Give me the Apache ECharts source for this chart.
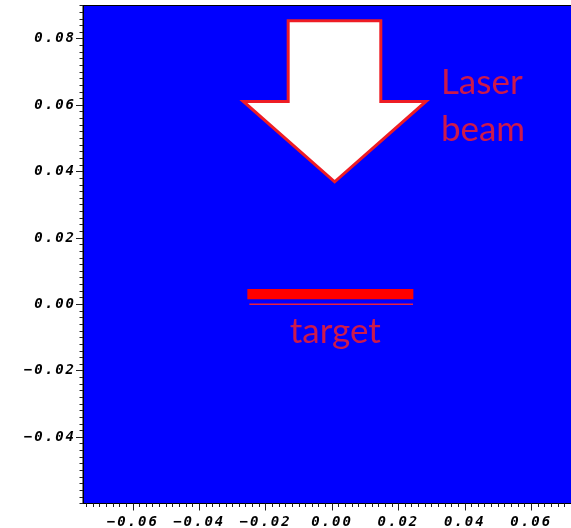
<!DOCTYPE html>
<html>
<head>
<meta charset="utf-8">
<script src="https://cdn.jsdelivr.net/npm/echarts@6/dist/echarts.min.js"></script>
<style>
html,body{margin:0;padding:0;background:#fff;}
#chart{width:571px;height:528px;}
</style>
</head>
<body>
<div id="chart"></div>
<script>
// ---- data ----
var xRange = [-0.075, 0.075];
var yRange = [-0.06, 0.09];
var xMajorTicks = [-0.06, -0.04, -0.02, 0.00, 0.02, 0.04, 0.06];
var yMajorTicks = [-0.04, -0.02, 0.00, 0.02, 0.04, 0.06, 0.08];
var minorStep = 0.002;

// laser beam arrow outline (x, y)
var arrowX = [-0.0132, 0.0147, 0.0147, 0.0283, 0.0008, -0.0267, -0.0132];
var arrowY = [0.0854, 0.0854, 0.0611, 0.0611, 0.0369, 0.0611, 0.0611];

// target slab
var targetX = [-0.0255, 0.0245];
var targetY = [0.0015, 0.0046];
// thin line under target
var baseLineX = [-0.0249, 0.0244];
var baseLineY = [0.0, 0.0];

// annotations
var annotText = ['Laser\nbeam', 'target'];
var annotX = [0.0328, 0.0010];
var annotY = [0.0597, -0.0083];

// wider tracking for the monospace tick labels (canvas letterSpacing)
(function () {
  var proto = CanvasRenderingContext2D.prototype;
  var origFill = proto.fillText;
  proto.fillText = function (t, x, y, m) {
    if ('letterSpacing' in this) {
      this.letterSpacing = (this.font.indexOf('Mono') >= 0) ? '2px' : '0px';
    }
    return m === undefined ? origFill.call(this, t, x, y) : origFill.call(this, t, x, y, m);
  };
})();

// ---- helpers ----
function minorTicks(range, majors) {
  var out = [];
  var start = Math.ceil(range[0] / minorStep - 1e-9);
  var end = Math.floor(range[1] / minorStep + 1e-9);
  for (var i = start; i <= end; i++) {
    var v = +(i * minorStep).toFixed(4);
    var isMajor = majors.some(function (m) { return Math.abs(m - v) < 1e-9; });
    if (!isMajor) out.push(v);
  }
  return out;
}
function fmt(v) {
  var s = Math.abs(v).toFixed(2);
  return (v < -1e-12 ? '\u2212' : '') + s;
}

var labelFont = {
  fontFamily: 'DejaVu Sans Mono',
  fontWeight: 'bold',
  fontStyle: 'italic',
  fontSize: 14,
  color: '#000'
};

var chart = echarts.init(document.getElementById('chart'), null, {renderer: 'canvas'});

var arrowPts = arrowX.map(function (x, i) { return [x, arrowY[i]]; });

var option = {
  animation: false,
  grid: {
    left: 83, top: 5.5, width: 498, height: 498,
    outerBoundsMode: 'none', containLabel: false,
    show: true, backgroundColor: '#0000ff', borderColor: '#000', borderWidth: 1
  },
  xAxis: [
    {
      type: 'value', min: xRange[0], max: xRange[1], position: 'bottom',
      axisLine: {show: true, onZero: false, lineStyle: {color: '#000', width: 1}},
      axisTick: {show: true, customValues: xMajorTicks, length: 7, lineStyle: {color: '#222'}},
      axisLabel: Object.assign({show: true, customValues: xMajorTicks, margin: 11.5, formatter: fmt}, labelFont),
      splitLine: {show: false}
    },
    {
      type: 'value', min: xRange[0], max: xRange[1], position: 'bottom',
      axisLine: {show: false, onZero: false},
      axisTick: {show: true, customValues: minorTicks(xRange, xMajorTicks), length: 3.5, lineStyle: {color: '#222'}},
      axisLabel: {show: false},
      splitLine: {show: false}
    }
  ],
  yAxis: [
    {
      type: 'value', min: yRange[0], max: yRange[1], position: 'left',
      axisLine: {show: true, onZero: false, lineStyle: {color: '#000', width: 1}},
      axisTick: {show: true, customValues: yMajorTicks, length: 7, lineStyle: {color: '#222'}},
      axisLabel: Object.assign({show: true, customValues: yMajorTicks, margin: 7, formatter: fmt}, labelFont),
      splitLine: {show: false}
    },
    {
      type: 'value', min: yRange[0], max: yRange[1], position: 'left',
      axisLine: {show: false, onZero: false},
      axisTick: {show: true, customValues: minorTicks(yRange, yMajorTicks), length: 3.5, lineStyle: {color: '#222'}},
      axisLabel: {show: false},
      splitLine: {show: false}
    }
  ],
  series: [
    {
      type: 'custom',
      xAxisIndex: 0, yAxisIndex: 0,
      data: [[targetX[0], targetY[0], targetX[1], targetY[1]]],
      renderItem: function (params, api) {
        var p1 = api.coord([api.value(0), api.value(1)]);
        var p2 = api.coord([api.value(2), api.value(3)]);
        return {
          type: 'rect',
          shape: {x: Math.min(p1[0], p2[0]), y: Math.min(p1[1], p2[1]),
                  width: Math.abs(p2[0] - p1[0]), height: Math.abs(p2[1] - p1[1])},
          style: {fill: '#ff0000'}
        };
      }
    },
    {
      type: 'line',
      xAxisIndex: 0, yAxisIndex: 0,
      data: baseLineX.map(function (x, i) { return [x, baseLineY[i]]; }),
      symbol: 'none',
      lineStyle: {color: '#e8203c', width: 1.5}
    },
    {
      type: 'custom',
      xAxisIndex: 0, yAxisIndex: 0,
      data: [0],
      renderItem: function (params, api) {
        var pts = arrowPts.map(function (p) { return api.coord(p); });
        return {
          type: 'polygon',
          shape: {points: pts},
          style: {fill: '#ffffff', stroke: '#ee1c24', lineWidth: 3, lineJoin: 'miter'}
        };
      }
    },
    {
      type: 'scatter',
      xAxisIndex: 0, yAxisIndex: 0,
      symbolSize: 0,
      data: [{value: [annotX[0], annotY[0]], name: annotText[0]}],
      label: {
        show: true, position: 'right', distance: 0, formatter: '{b}',
        fontFamily: 'Lato', fontSize: 35, lineHeight: 47, color: '#ff1f1f',
        align: 'left', verticalAlign: 'middle'
      }
    },
    {
      type: 'scatter',
      xAxisIndex: 0, yAxisIndex: 0,
      symbolSize: 0,
      data: [{value: [annotX[1], annotY[1]], name: annotText[1]}],
      label: {
        show: true, position: 'inside', formatter: '{b}',
        fontFamily: 'Lato', fontSize: 35, color: '#ff1f1f',
        align: 'center', verticalAlign: 'middle'
      }
    }
  ]
};
chart.setOption(option);
</script>
</body>
</html>
